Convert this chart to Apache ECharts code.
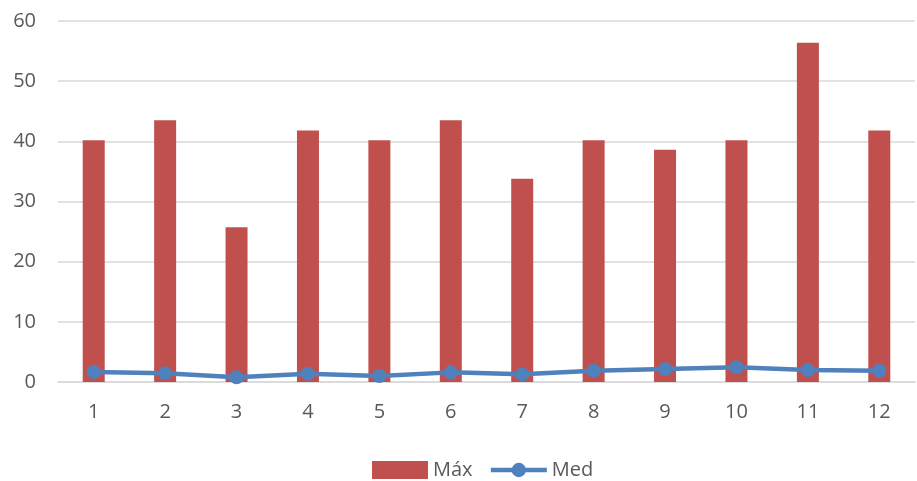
<!DOCTYPE html>
<html><head><meta charset="utf-8">
<script src="https://cdn.jsdelivr.net/npm/echarts@6/dist/echarts.min.js"></script>
<style>html,body{margin:0;padding:0;background:#fff}#c{width:917px;height:481px}</style>
</head><body><div id="c"></div>
<script>
const categories = ['1','2','3','4','5','6','7','8','9','10','11','12'];
const maxValues = [40.2, 43.5, 25.7, 41.8, 40.2, 43.5, 33.8, 40.2, 38.6, 40.2, 56.4, 41.8];
const medValues = [1.66, 1.44, 0.78, 1.39, 1.0, 1.6, 1.27, 1.89, 2.16, 2.44, 2.0, 1.89];
const seriesNames = ['Máx', 'Med'];

const chart = echarts.init(document.getElementById('c'));
chart.setOption({
  animation: false,
  textStyle: { fontFamily: 'Open Sans, sans-serif' },
  grid: { left: 58, right: 2, top: 21, bottom: 99 },
  legend: {
    top: 455,
    left: 367,
    itemGap: 16,
    textStyle: { color: '#595959', fontSize: 20 },
    data: [
      { name: seriesNames[0], icon: 'rect', itemWidth: 52, itemHeight: 14 },
      { name: seriesNames[1], lineStyle: { width: 4.5 } }
    ],
    itemWidth: 56,
    itemHeight: 18
  },
  xAxis: {
    type: 'category',
    data: categories,
    axisLine: { lineStyle: { color: '#D9D9D9', width: 1.5 } },
    axisTick: { show: false },
    axisLabel: { color: '#595959', fontSize: 20, margin: 20 }
  },
  yAxis: {
    type: 'value',
    min: 0, max: 60, interval: 10,
    axisLine: { show: false },
    axisTick: { show: false },
    splitLine: { lineStyle: { color: '#D9D9D9', width: 1.5 } },
    axisLabel: { color: '#595959', fontSize: 20, margin: 22 }
  },
  series: [
    {
      name: seriesNames[0], type: 'bar', data: maxValues,
      barWidth: 22,
      itemStyle: { color: '#C0504D' }
    },
    {
      name: seriesNames[1], type: 'line', data: medValues,
      symbol: 'circle', symbolSize: 14,
      lineStyle: { color: '#4F81BD', width: 4.5 },
      itemStyle: { color: '#4F81BD' }
    }
  ]
});
</script></body></html>
